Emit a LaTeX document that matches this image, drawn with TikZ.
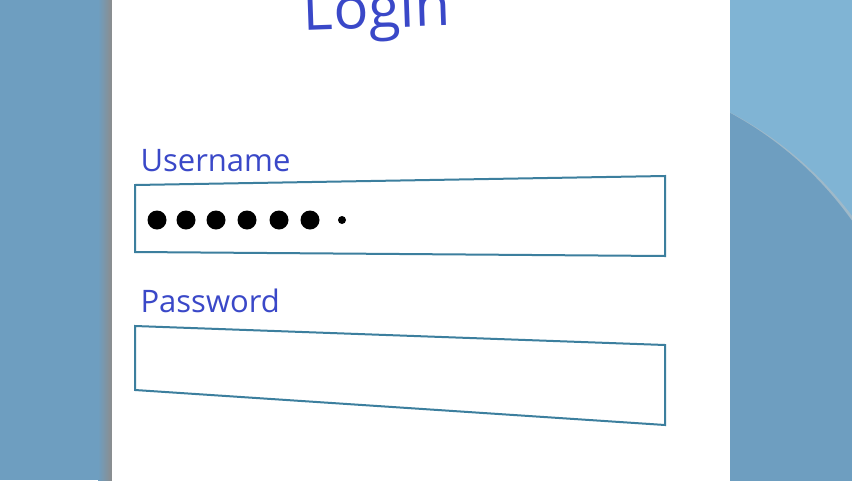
\documentclass[tikz,border=0pt]{standalone}
\usepackage{fontspec}
\setmainfont{Open Sans}
\definecolor{bgdark}{HTML}{6E9EC0}
\definecolor{bglight}{HTML}{80B4D4}
\definecolor{ink}{HTML}{3A48C8}
\definecolor{frame}{HTML}{3C7F9E}
\begin{document}
\begin{tikzpicture}[x=1pt,y=-1pt,
    label/.style={anchor=base west,text=ink,font=\fontsize{31}{31}\selectfont},
    field/.style={draw=frame,line width=2pt,fill=white},
    dot/.style={fill=black}]
    \useasboundingbox (0,0) rectangle (852,480);
    \fill[bgdark] (0,0) rectangle (852,480);
    \fill[bglight] (730,0) rectangle (852,480);
    \fill[black!25,opacity=0.5] (564,432) circle (360);
    \fill[bgdark] (560,428) circle (358);
    \shade[left color=bgdark,right color=black!45] (98,0) rectangle (112,480);
    \fill[white] (112,-2) rectangle (730,482);
    \node[text=ink,font=\fontsize{58}{58}\selectfont,rotate=2] (title) at (377,14) {Login};
    \node[label] (user) at (137,171) {Username};
    \draw[field] (135,185) coordinate (u1) -- (665,176) -- (665,256) -- (135,252) -- cycle;
    \foreach \x in {157,186,216,247,279,310} \fill[dot] (\x,220) circle (9.5);
    \fill[dot] (342,220) circle (4);
    \node[label] (pass) at (137,312) {Password};
    \draw[field] (135,326) coordinate (p1) -- (665,345) -- (665,425) -- (135,390) -- cycle;
\end{tikzpicture}
\end{document}
